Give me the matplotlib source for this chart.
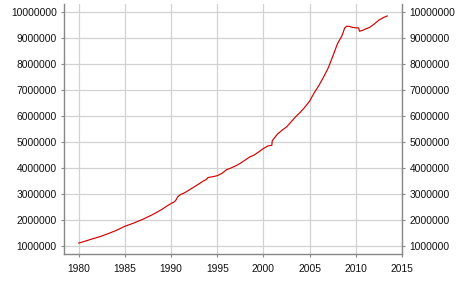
import matplotlib
matplotlib.use("Agg")
import matplotlib.pyplot as plt
from matplotlib.ticker import FixedLocator, FuncFormatter

years = [1980.0, 1981.0, 1982.0, 1982.3, 1983.0, 1984.0, 1985.0, 1986.0, 1987.0,
         1988.0, 1989.0, 1989.5, 1990.0, 1990.3, 1990.5, 1990.7, 1991.0, 1991.5,
         1992.0, 1992.5, 1993.0, 1993.5, 1993.8, 1994.0, 1994.5, 1995.0, 1995.5,
         1996.0, 1996.5, 1997.0, 1997.5, 1998.0, 1998.5, 1999.0, 1999.5, 2000.0,
         2000.5, 2000.9, 2000.95, 2001.5, 2002.0, 2002.5, 2003.0, 2003.5, 2004.0,
         2004.5, 2005.0, 2005.5, 2006.0, 2006.5, 2007.0, 2007.5, 2008.0, 2008.5,
         2008.8, 2009.0, 2009.3, 2009.6, 2010.0, 2010.3, 2010.4, 2010.7, 2011.0,
         2011.5, 2012.0, 2012.5, 2013.0, 2013.4]
values = [1.10, 1.21, 1.32, 1.35, 1.44, 1.58, 1.75, 1.88, 2.03,
          2.20, 2.40, 2.52, 2.63, 2.68, 2.75, 2.88, 2.97, 3.05,
          3.16, 3.27, 3.38, 3.50, 3.55, 3.63, 3.66, 3.70, 3.79,
          3.93, 4.00, 4.08, 4.18, 4.30, 4.42, 4.50, 4.62, 4.75,
          4.85, 4.87, 5.05, 5.30, 5.45, 5.58, 5.78, 5.98, 6.15,
          6.35, 6.58, 6.90, 7.18, 7.50, 7.85, 8.30, 8.78, 9.10,
          9.40, 9.46, 9.46, 9.42, 9.40, 9.40, 9.27, 9.30, 9.35,
          9.42, 9.55, 9.70, 9.80, 9.86]
values = [v * 1e6 for v in values]

x_ticks = [1980, 1985, 1990, 1995, 2000, 2005, 2010, 2015]
y_ticks = [1000000, 2000000, 3000000, 4000000, 5000000,
           6000000, 7000000, 8000000, 9000000, 10000000]

plt.rcParams['font.family'] = ['Liberation Sans', 'DejaVu Sans']

fig = plt.figure(figsize=(4.66, 2.97), dpi=100)
ax = fig.add_axes([0.1384, 0.1448, 0.8627 - 0.1384, 0.9865 - 0.1448])

ax.plot(years, values, color='#d40000', linewidth=0.85, zorder=3)

ax.set_xlim(1978.45, 2015)
ax.set_ylim(0.68e6, 10.32e6)
ax.xaxis.set_major_locator(FixedLocator(x_ticks))
ax.yaxis.set_major_locator(FixedLocator(y_ticks))
ax.yaxis.set_major_formatter(FuncFormatter(lambda v, p: f"{int(round(v))}"))
ax.xaxis.set_major_formatter(FuncFormatter(lambda v, p: f"{int(round(v))}"))

ax.grid(True, color='#d2d2d2', linewidth=0.9, zorder=0)
ax.set_axisbelow(True)

for s in ['left', 'bottom', 'right']:
    ax.spines[s].set_color('#888888')
    ax.spines[s].set_linewidth(1.0)
ax.spines['top'].set_visible(False)

ax.tick_params(axis='both', colors='#888888', labelcolor='#111111',
               length=2.5, width=0.8, labelsize=7.4, pad=3)
ax.tick_params(axis='y', left=True, right=True, labelleft=True, labelright=True)
ax.tick_params(axis='x', pad=5)

fig.savefig('out.png', dpi=100)
